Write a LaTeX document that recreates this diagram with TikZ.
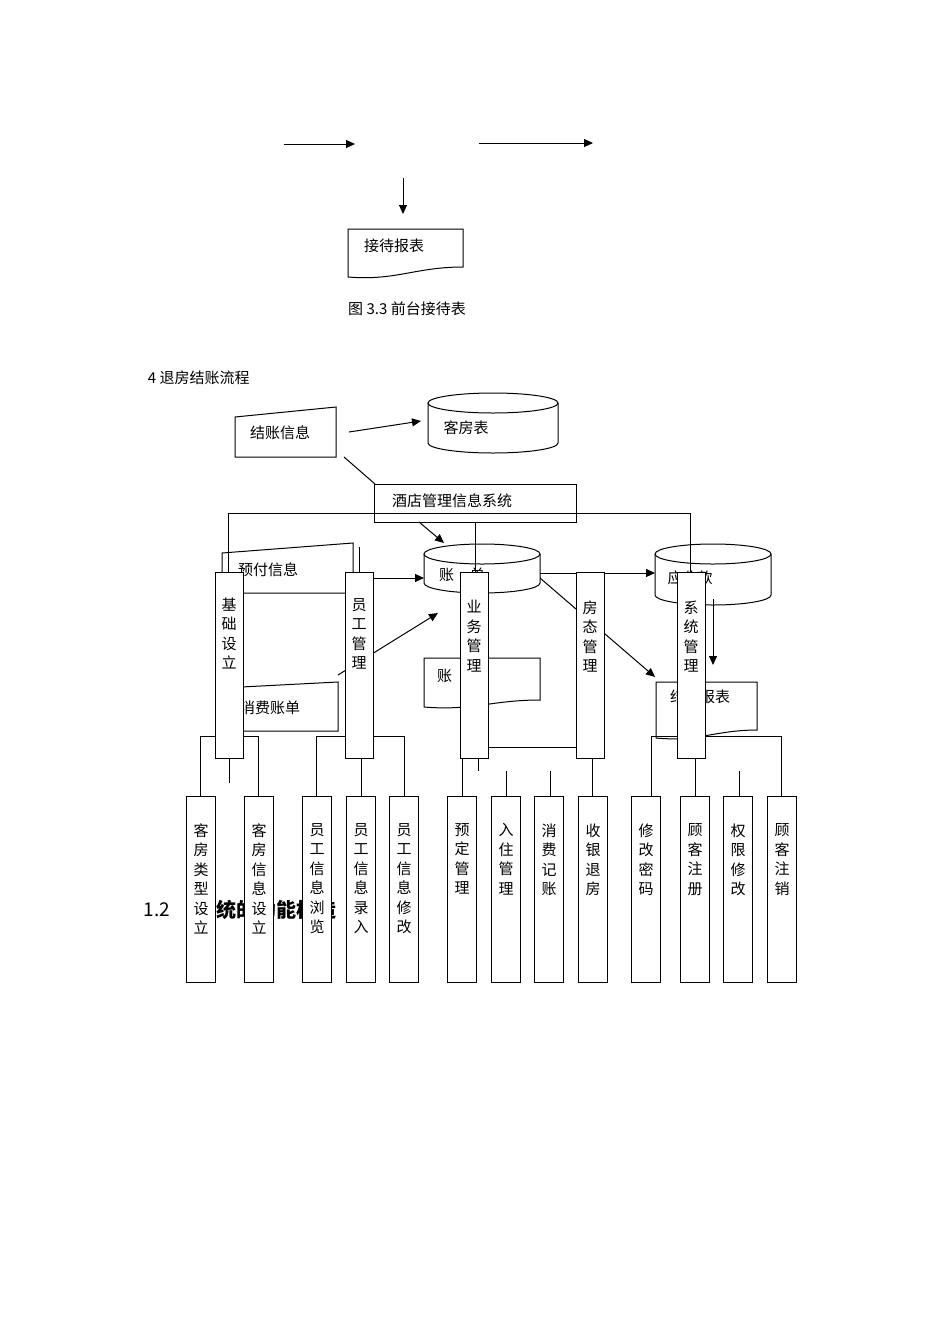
\documentclass[tikz,border=0pt]{standalone}
\usepackage{fontspec}
\setmainfont{Noto Sans CJK SC}
\usetikzlibrary{arrows.meta}
\newcommand\mycyl[4]{%
 \draw (#1,#3+10) -- (#1,#4-10) arc[start angle=180,end angle=0,x radius={(#2-#1)/2},y radius=10] -- (#2,#3+10);
 \draw ({(#1+#2)/2},#3+10) ellipse[x radius={(#2-#1)/2},y radius=10];}
\newcommand\mydoc[5]{%
 \draw[fill=white] (#1,#3) -- (#2,#3) -- (#2,#5) .. controls ({(#1+#2)/2+10},#5) and ({(#1+#2)/2-10},#4+4) .. (#1,#4) -- cycle;}
\begin{document}
\begin{tikzpicture}[x=1pt,y=-1pt,line width=1pt,
 every node/.style={font=\fontsize{15}{19.5}\selectfont},
 arr/.style={-{Triangle[length=9pt,width=8pt]}},
 tall/.style={draw,fill=white,minimum width=28pt,minimum height=186pt,inner sep=0pt},
 leaf/.style={draw,fill=white,minimum width=29pt,minimum height=186pt,inner sep=0pt},
 vt/.style={align=center,anchor=north,inner sep=0pt}]
\useasboundingbox (0,0) rectangle (950,1344);
% top part
\coordinate (a1) at (284,144); \coordinate (a2) at (355,144);
\coordinate (b1) at (479,143); \coordinate (b2) at (593,143);
\coordinate (c1) at (403,178); \coordinate (c2) at (403,214);
\draw[arr] (a1) -- (a2); \draw[arr] (b1) -- (b2); \draw[arr] (c1) -- (c2);
\mydoc{348}{463}{229}{277}{267}
\node (jd) at (394,246) {接待报表};
\node (cap) at (407,309) {图 3.3 前台接待表};
\node[anchor=west] (t4) at (144,378) {4 退房结账流程};
% checkout flow
\draw (235,417) -- (336,407) -- (336,457) -- (235,457) -- cycle;
\node (jz) at (280,433) {结账信息};
\mycyl{428}{558}{393}{453}
\node (kf) at (466,428) {客房表};
\draw[arr] (349,432) -- (421,421);
\draw (344,457) -- (375,484);
\draw[fill=white] (374,484) rectangle (576,522);
\node (sys) at (452,501) {酒店管理信息系统};
\draw (228,572) -- (228,513) -- (690,513) -- (690,572);
\draw (475,522) -- (475,572);
\draw[arr] (419,522) -- (444,543);
\draw (222,553) -- (353,543) -- (353,593) -- (222,593) -- cycle;
\node (yf) at (268,570) {预付信息};
\draw (359,547) -- (359,572);
\mycyl{424}{540}{544}{593}
\node at (462,575) {账\hspace{16pt}单};
\mycyl{655}{771}{544}{605}
\node at (690,578) {应收款};
\draw[arr] (373,578) -- (424,578);
\draw[arr] (338,675) -- (438,613);
\draw[arr] (540,573) -- (655,573);
\draw[arr] (540,578) -- (655,677);
\draw[arr] (713,599) -- (713,665);
\mydoc{656}{757}{682}{738}{730}
\node at (700,697) {结算报表};
\mydoc{424}{540}{658}{707}{700}
\node at (460,676) {账\hspace{16pt}单};
\draw[fill=white] (222,688) -- (338,682) -- (338,731) -- (222,731) -- cycle;
\node at (270,708) {消费账单};
% tree lines
\draw (200,796) -- (200,736) -- (258,736) -- (258,796);
\draw (229,758) -- (229,783);
\draw (316,796) -- (316,736) -- (404,736) -- (404,796);
\draw (361,758) -- (361,796);
\draw (462,796) -- (462,747) -- (592,747) -- (592,796);
\draw (478,758) -- (478,771);
\draw (506,771) -- (506,796); \draw (550,771) -- (550,796);
\draw (651,796) -- (651,736) -- (781,736) -- (781,796);
\draw (695,758) -- (695,796);
\draw (739,771) -- (739,796);
% tall boxes
\node[tall] (m1) at (229,665) {}; \node[vt] at (229,597) {基\\础\\设\\立};
\node[tall] (m2) at (359,665) {}; \node[vt] at (359,598) {员\\工\\管\\理};
\node[tall] (m3) at (474,665) {}; \node[vt] at (474,600) {业\\务\\管\\理};
\node[tall] (m4) at (590,665) {}; \node[vt] at (590,600) {房\\态\\管\\理};
\node[tall] (m5) at (691,665) {}; \node[vt] at (691,600) {系\\统\\管\\理};
% heading behind leaves
\node[anchor=west,font=\fontsize{19}{20}\selectfont] at (140,910) {1.2};
\node[anchor=west,font=\fontsize{20}{20}\selectfont\bfseries,inner sep=0pt] at (196,910) {系统的功能构造};
% leaves
\foreach \x/\t in {201/客\\房\\类\\型\\设\\立, 259/客\\房\\信\\息\\设\\立, 317/员\\工\\信\\息\\浏\\览, 361/员\\工\\信\\息\\录\\入, 404/员\\工\\信\\息\\修\\改, 462/预\\定\\管\\理, 506/入\\住\\管\\理, 549/消\\费\\记\\账, 593/收\\银\\退\\房, 646/修\\改\\密\\码, 695/顾\\客\\注\\册, 738/权\\限\\修\\改, 782/顾\\客\\注\\销}{
 \node[leaf] at (\x,889) {};
 \node[vt] at (\x,823) {\t};
}
\end{tikzpicture}
\end{document}
